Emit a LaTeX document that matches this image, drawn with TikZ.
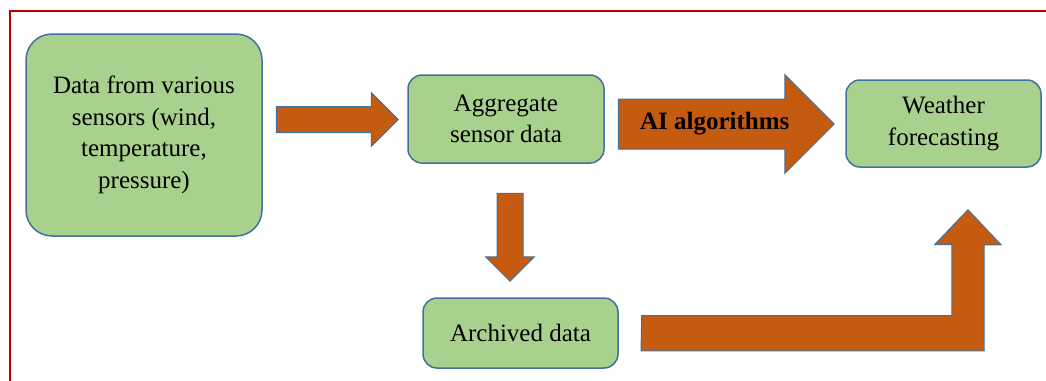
\documentclass[tikz,border=0pt]{standalone}
\usepackage{fontspec}
\setmainfont{Liberation Serif}
\usetikzlibrary{positioning, calc, shapes.arrows}

\definecolor{boxgreen}{HTML}{A9D18E}
\definecolor{boxline}{HTML}{41719C}
\definecolor{arrowfill}{HTML}{C55A11}
\definecolor{framered}{HTML}{C00000}

\begin{document}
\begin{tikzpicture}[x=1pt, y=-1pt, font=\rmfamily\fontsize{25}{31.5}\selectfont]
    % Define block styles
    \tikzset{
        block/.style={rectangle, draw=boxline, line width=1.5pt, fill=boxgreen, align=center, inner sep=0pt, rounded corners=14},
        blockarrow/.style={single arrow, draw=boxline, line width=1pt, fill=arrowfill, inner xsep=0pt, single arrow tip angle=90, anchor=tail},
        bentarrow/.style={draw=boxline, line width=1pt, fill=arrowfill, line join=miter}
    }
    \useasboundingbox (0,0) rectangle (1046,380);

    % Frame
    \draw[framered, line width=2pt] (10,382) -- (10,11) -- (1048,11);

    % Place nodes
    \node[block, minimum width=236, minimum height=202, rounded corners=26] (sensors) at (144,135) {Data from various\\sensors (wind,\\temperature,\\pressure)};
    \node[block, minimum width=196, minimum height=88] (aggregate) at (506,119) {Aggregate\\sensor data};
    \node[block, minimum width=195, minimum height=87] (weather) at (943.5,123.5) {Weather\\forecasting};
    \node[block, minimum width=195, minimum height=70] (archived) at (520.5,333) {Archived data};

    % Draw connections as block arrows
    \node[blockarrow, inner ysep=12.5, minimum height=122, single arrow head extend=14] (arrow_in) at ($(sensors.east)+(13,-15.5)$) {};
    \node[blockarrow, inner ysep=24.5, minimum height=216, single arrow head extend=24.5] (arrow_ai) at ($(aggregate.east)+(13,5)$) {};
    \node[blockarrow, rotate=-90, inner ysep=12.5, minimum height=88, single arrow head extend=11.5] (arrow_archive) at ($(aggregate.south)+(4,29)$) {};
    \coordinate (bend_tail) at ($(archived.east)+(23,0)$);
    \coordinate (bend_tip) at ($(weather.south)+(24.5,42)$);
    \draw[bentarrow] (bend_tail) ++(0,-17.5) -- ++(310,0) -- ++(0,-71) -- ++(-17,0) -- (bend_tip) -- ++(33,35) -- ++(-17,0) -- ++(0,106) -- ++(-343,0) -- cycle;

    % Add text on the arrow
    \node[font=\rmfamily\fontsize{25}{31.5}\selectfont\bfseries] (ai_label) at ($(arrow_ai.tail)+(97,0)$) {AI algorithms};
\end{tikzpicture}
\end{document}
